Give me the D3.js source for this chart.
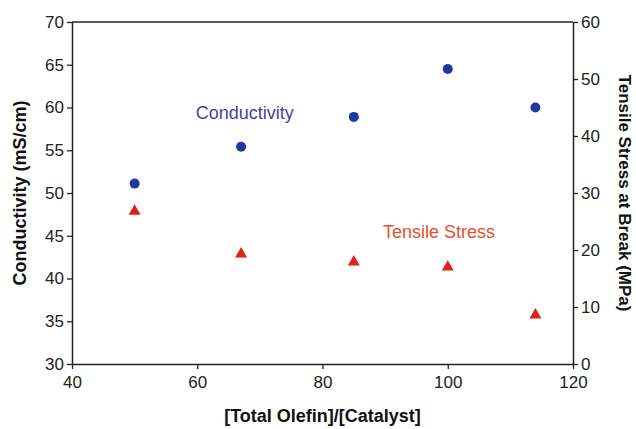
<!DOCTYPE html>
<html>
<head>
<meta charset="utf-8">
<script src="https://cdn.jsdelivr.net/npm/d3@7"></script>
<style>
  body { margin: 0; background: #fff; }
  text { font-family: "Liberation Sans", Arial, sans-serif; }
</style>
</head>
<body>
<div id="chart"></div>
<script>
// Data
const ratio = [50, 67, 85, 100, 114];
const conductivity = [51.1, 55.4, 58.9, 64.5, 60.0];
const tensileStress = [26.8, 19.3, 17.9, 17.0, 8.6];

const xTicks = [40, 60, 80, 100, 120];
const yLeftTicks = [30, 35, 40, 45, 50, 55, 60, 65, 70];
const yRightTicks = [0, 10, 20, 30, 40, 50, 60];

// Set the dimensions and margins of the graph
const W = 636, H = 429;
const margin = {top: 22, right: 63, bottom: 65, left: 72};
const width = W - margin.left - margin.right;
const height = H - margin.top - margin.bottom;

const svg = d3.select("#chart")
    .append("svg")
    .attr("width", W)
    .attr("height", H)
    .append("g")
    .attr("transform", `translate(${margin.left},${margin.top})`);

// Scales
const x = d3.scaleLinear().domain([40, 120]).range([0, width]);
const yL = d3.scaleLinear().domain([30, 70]).range([height, 0]);
const yR = d3.scaleLinear().domain([0, 60]).range([height, 0]);

// Top frame line
svg.append("line")
    .attr("x1", 0).attr("x2", width)
    .attr("y1", 0).attr("y2", 0)
    .attr("stroke", "#222")
    .attr("stroke-width", 1.5);

function styleAxis(g) {
    g.select(".domain").attr("stroke", "#222").attr("stroke-width", 1.5);
    g.selectAll(".tick line").attr("stroke", "#222").attr("stroke-width", 1.3);
    g.selectAll(".tick text")
        .attr("fill", "#222")
        .style("font-size", "17px")
        .style("font-family", "'Liberation Sans', Arial, sans-serif");
}

// X axis
svg.append("g")
    .attr("transform", `translate(0,${height})`)
    .call(d3.axisBottom(x).tickValues(xTicks).tickSize(5).tickSizeOuter(0).tickPadding(7))
    .call(styleAxis);

// Left Y axis
svg.append("g")
    .call(d3.axisLeft(yL).tickValues(yLeftTicks).tickSize(5).tickSizeOuter(0).tickPadding(3))
    .call(styleAxis);

// Right Y axis
svg.append("g")
    .attr("transform", `translate(${width},0)`)
    .call(d3.axisRight(yR).tickValues(yRightTicks).tickSize(5).tickSizeOuter(0).tickPadding(3))
    .call(styleAxis);

// Axis titles
svg.append("text")
    .attr("transform", `translate(${-52},${height / 2}) rotate(-90)`)
    .attr("text-anchor", "middle")
    .attr("dy", "0.35em")
    .style("font-size", "18px")
    .style("font-weight", "bold")
    .attr("fill", "#111")
    .text("Conductivity (mS/cm)");

svg.append("text")
    .attr("transform", `translate(${width + 52},${height / 2}) rotate(90)`)
    .attr("text-anchor", "middle")
    .attr("dy", "0.35em")
    .style("font-size", "17px")
    .style("font-weight", "bold")
    .attr("fill", "#111")
    .text("Tensile Stress at Break (MPa)");

svg.append("text")
    .attr("x", width / 2)
    .attr("y", height + 52)
    .attr("text-anchor", "middle")
    .attr("dy", "0.35em")
    .style("font-size", "18px")
    .style("font-weight", "bold")
    .attr("fill", "#111")
    .text("[Total Olefin]/[Catalyst]");

// Conductivity points
svg.selectAll(".cond")
    .data(ratio.map((r, i) => ({r: r, v: conductivity[i]})))
    .enter().append("circle")
    .attr("class", "cond")
    .attr("cx", d => x(d.r))
    .attr("cy", d => yL(d.v))
    .attr("r", 5)
    .attr("fill", "#1e3a9c");

// Tensile stress points
const tri = d3.symbol().type(d3.symbolTriangle).size(62);
svg.selectAll(".tens")
    .data(ratio.map((r, i) => ({r: r, v: tensileStress[i]})))
    .enter().append("path")
    .attr("class", "tens")
    .attr("d", tri)
    .attr("transform", d => `translate(${x(d.r)},${yR(d.v)})`)
    .attr("fill", "#e0201a");

// Series labels
svg.append("text")
    .attr("x", x(67.6))
    .attr("y", yL(59.4))
    .attr("text-anchor", "middle")
    .attr("dy", "0.35em")
    .style("font-size", "18px")
    .attr("fill", "#43449a")
    .text("Conductivity");

svg.append("text")
    .attr("x", x(98.6))
    .attr("y", yR(23.2))
    .attr("text-anchor", "middle")
    .attr("dy", "0.35em")
    .style("font-size", "18px")
    .attr("fill", "#e5502f")
    .text("Tensile Stress");
</script>
</body>
</html>
